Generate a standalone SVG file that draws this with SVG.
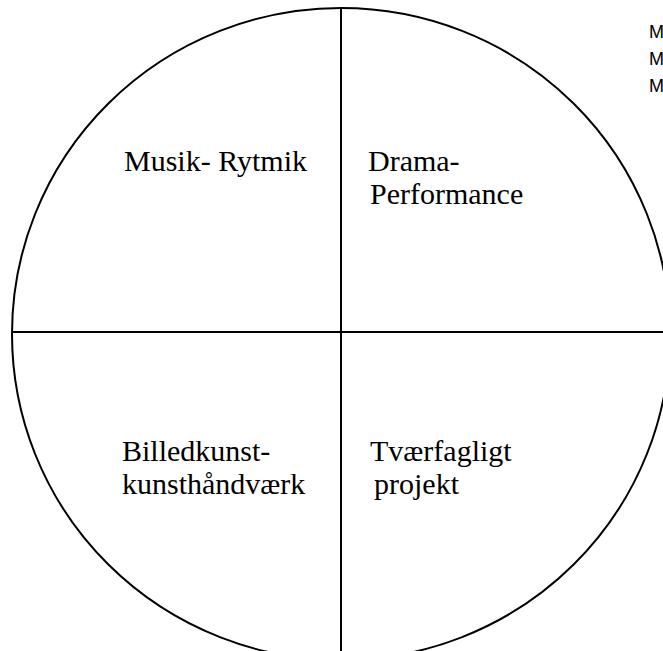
<svg xmlns="http://www.w3.org/2000/svg" width="663" height="651" viewBox="0 0 663 651">
<style>
.ln{stroke:#000;stroke-width:2;fill:none}
.t{font-family:"Liberation Serif","Times New Roman",serif;font-size:30px;fill:#000}
.s{font-family:"Liberation Sans",Arial,sans-serif;font-size:18px;fill:#000}
</style>
<rect width="663" height="651" fill="#fff"/>
<g id="connectors">
<ellipse class="ln" cx="341" cy="334" rx="329" ry="326"/>
<line class="ln" x1="341" y1="8" x2="341" y2="651"/>
<line class="ln" x1="12" y1="332" x2="663" y2="332"/>
</g>
<g id="musik"><text class="t" x="124" y="171">Musik- Rytmik</text></g>
<g id="drama"><text class="t" x="368" y="171">Drama-</text><text class="t" x="370" y="204">Performance</text></g>
<g id="billed"><text class="t" x="122" y="461">Billedkunst-</text><text class="t" x="122" y="494">kunsthåndværk</text></g>
<g id="tvaer"><text class="t" x="370" y="461">Tværfagligt</text><text class="t" x="374" y="494">projekt</text></g>
<g id="legend"><text class="s" x="649" y="38">M</text><text class="s" x="649" y="65">M</text><text class="s" x="649" y="92">M</text></g>
</svg>
